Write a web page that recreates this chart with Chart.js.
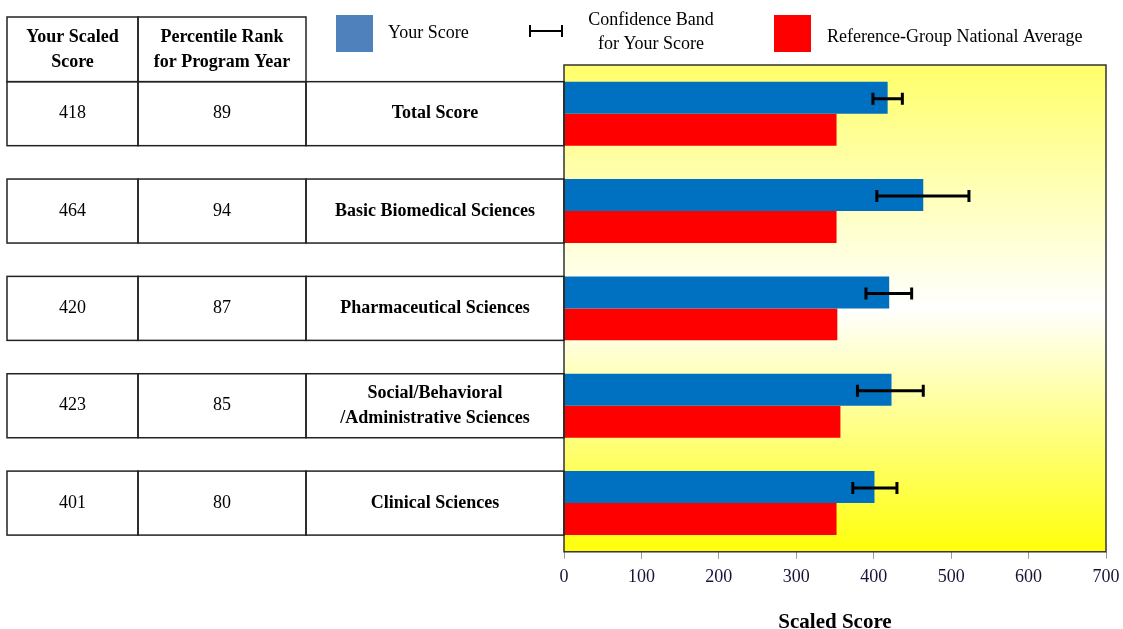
<!DOCTYPE html>
<html>
<head>
<meta charset="utf-8">
<script src="https://cdn.jsdelivr.net/npm/chart.js@4/dist/chart.umd.min.js"></script>
<style>
	html, body { margin: 0; padding: 0; background: #fff; }
	#wrap { width: 1123px; height: 629px; }
</style>
</head>
<body>
<div id="wrap"><canvas id="scoreChart" width="1123" height="629"></canvas></div>
<script>
const categories = [
	["Total Score"],
	["Basic Biomedical Sciences"],
	["Pharmaceutical Sciences"],
	["Social/Behavioral", "/Administrative Sciences"],
	["Clinical Sciences"],
];
const yourScore = [418, 464, 420, 423, 401];
const nationalAverage = [352, 352, 353, 357, 352];
const bandLow = [399, 404, 390, 379, 373];
const bandHigh = [437, 523, 449, 464, 430];
const scaledScore = ["418", "464", "420", "423", "401"];
const percentileRank = ["89", "94", "87", "85", "80"];
const xTicks = [0, 100, 200, 300, 400, 500, 600, 700];

const serif = "'Liberation Serif', 'Times New Roman', serif";

/*yellow-white-yellow fill behind the bars*/
const plotBackground = {
	id: "plotBackground",
	beforeDraw(chart) {
		const { ctx, chartArea: a } = chart;
		const grad = ctx.createLinearGradient(0, a.top, 0, a.bottom);
		grad.addColorStop(0, "#ffff6a");
		grad.addColorStop(0.5, "#ffffff");
		grad.addColorStop(1, "#ffff0a");
		ctx.save();
		ctx.fillStyle = grad;
		ctx.fillRect(a.left, a.top, a.right - a.left, a.bottom - a.top);
		ctx.restore();
	},
	afterDraw(chart) {
		const { ctx, chartArea: a } = chart;
		ctx.save();
		ctx.strokeStyle = "#333";
		ctx.lineWidth = 1.5;
		ctx.strokeRect(a.left, a.top, a.right - a.left, a.bottom - a.top);
		ctx.restore();
	},
};

/*confidence band drawn on the blue bars*/
const errorBars = {
	id: "errorBars",
	afterDatasetsDraw(chart) {
		const ctx = chart.ctx;
		const x = chart.scales.x;
		const meta = chart.getDatasetMeta(0);
		ctx.save();
		ctx.strokeStyle = "#000";
		ctx.lineWidth = 3;
		meta.data.forEach((bar, i) => {
			const y = bar.y + 1;
			const x1 = x.getPixelForValue(bandLow[i]);
			const x2 = x.getPixelForValue(bandHigh[i]);
			ctx.beginPath();
			ctx.moveTo(x1, y);
			ctx.lineTo(x2, y);
			ctx.moveTo(x1, y - 6);
			ctx.lineTo(x1, y + 6);
			ctx.moveTo(x2, y - 6);
			ctx.lineTo(x2, y + 6);
			ctx.stroke();
		});
		ctx.restore();
	},
};

/*score table on the left, rows follow the category scale*/
const scoreTable = {
	id: "scoreTable",
	afterDraw(chart) {
		const ctx = chart.ctx;
		const yScale = chart.scales.y;
		const left = chart.chartArea.left;
		const cols = [7, 138, 306, left];
		const half = 32;
		ctx.save();
		ctx.strokeStyle = "#222";
		ctx.lineWidth = 1.5;
		ctx.fillStyle = "#000";
		ctx.textAlign = "center";
		ctx.textBaseline = "middle";

		/*header*/
		const hTop = 17, hBottom = yScale.getPixelForValue(0) - half;
		ctx.strokeRect(cols[0], hTop, cols[1] - cols[0], hBottom - hTop);
		ctx.strokeRect(cols[1], hTop, cols[2] - cols[1], hBottom - hTop);
		ctx.font = "bold 18px " + serif;
		ctx.fillText("Your Scaled", (cols[0] + cols[1]) / 2, 37);
		ctx.fillText("Score", (cols[0] + cols[1]) / 2, 62);
		ctx.fillText("Percentile Rank", (cols[1] + cols[2]) / 2, 37);
		ctx.fillText("for Program Year", (cols[1] + cols[2]) / 2, 62);

		categories.forEach((label, i) => {
			const cy = yScale.getPixelForValue(i);
			const top = cy - half;
			ctx.strokeRect(cols[0], top, cols[1] - cols[0], half * 2);
			ctx.strokeRect(cols[1], top, cols[2] - cols[1], half * 2);
			ctx.strokeRect(cols[2], top, cols[3] - cols[2], half * 2);
			ctx.font = "18px " + serif;
			ctx.fillText(scaledScore[i], (cols[0] + cols[1]) / 2, cy);
			ctx.fillText(percentileRank[i], (cols[1] + cols[2]) / 2, cy);
			ctx.font = "bold 18px " + serif;
			const mid = (cols[2] + cols[3]) / 2;
			label.forEach((line, j) => {
				ctx.fillText(line, mid, cy + (j - (label.length - 1) / 2) * 25);
			});
		});
		ctx.restore();
	},
};

/*legend row along the top*/
const topLegend = {
	id: "topLegend",
	afterDraw(chart) {
		const ctx = chart.ctx;
		ctx.save();
		ctx.fillStyle = "#4f81bd";
		ctx.fillRect(336, 15, 37, 37);
		ctx.fillStyle = "#ff0000";
		ctx.fillRect(774, 15, 37, 37);

		ctx.strokeStyle = "#000";
		ctx.lineWidth = 2;
		ctx.beginPath();
		ctx.moveTo(530, 31);
		ctx.lineTo(562, 31);
		ctx.moveTo(530, 25);
		ctx.lineTo(530, 37);
		ctx.moveTo(562, 25);
		ctx.lineTo(562, 37);
		ctx.stroke();

		ctx.fillStyle = "#000";
		ctx.font = "18px " + serif;
		ctx.textBaseline = "middle";
		ctx.textAlign = "left";
		ctx.fillText("Your Score", 388, 33);
		ctx.fillText("Reference-Group National Average", 827, 37);
		ctx.textAlign = "center";
		ctx.fillText("Confidence Band", 651, 20);
		ctx.fillText("for Your Score", 651, 44);
		ctx.restore();
	},
};

new Chart(document.getElementById("scoreChart"), {
	type: "bar",
	data: {
		labels: categories,
		datasets: [
			{
				label: "Your Score",
				data: yourScore,
				backgroundColor: "#0070c0",
				categoryPercentage: 0.657,
				barPercentage: 1,
			},
			{
				label: "Reference-Group National Average",
				data: nationalAverage,
				backgroundColor: "#ff0000",
				categoryPercentage: 0.657,
				barPercentage: 1,
			},
		],
	},
	options: {
		indexAxis: "y",
		responsive: false,
		animation: false,
		layout: {
			padding: { left: 564, right: 17, top: 65, bottom: 0 },
		},
		plugins: {
			legend: { display: false },
			tooltip: { enabled: false },
		},
		scales: {
			y: { display: false },
			x: {
				min: 0,
				max: 700,
				afterBuildTicks: (axis) => {
					axis.ticks = xTicks.map((v) => ({ value: v }));
				},
				afterFit: (axis) => {
					/*"700" may overhang into the right margin*/
					axis.paddingRight = 0;
					axis.paddingLeft = 0;
				},
				grid: {
					drawOnChartArea: false,
					drawTicks: true,
					tickLength: 7,
					color: "#999",
				},
				border: { display: false },
				ticks: {
					padding: 9,
					color: "#141438",
					font: { family: serif, size: 18, lineHeight: 1 },
				},
				title: {
					display: true,
					text: "Scaled Score",
					color: "#000",
					padding: { top: 21, bottom: 0 },
					font: { family: serif, size: 21, weight: "bold", lineHeight: 0.63 },
				},
			},
		},
	},
	plugins: [plotBackground, errorBars, scoreTable, topLegend],
});
</script>
</body>
</html>
